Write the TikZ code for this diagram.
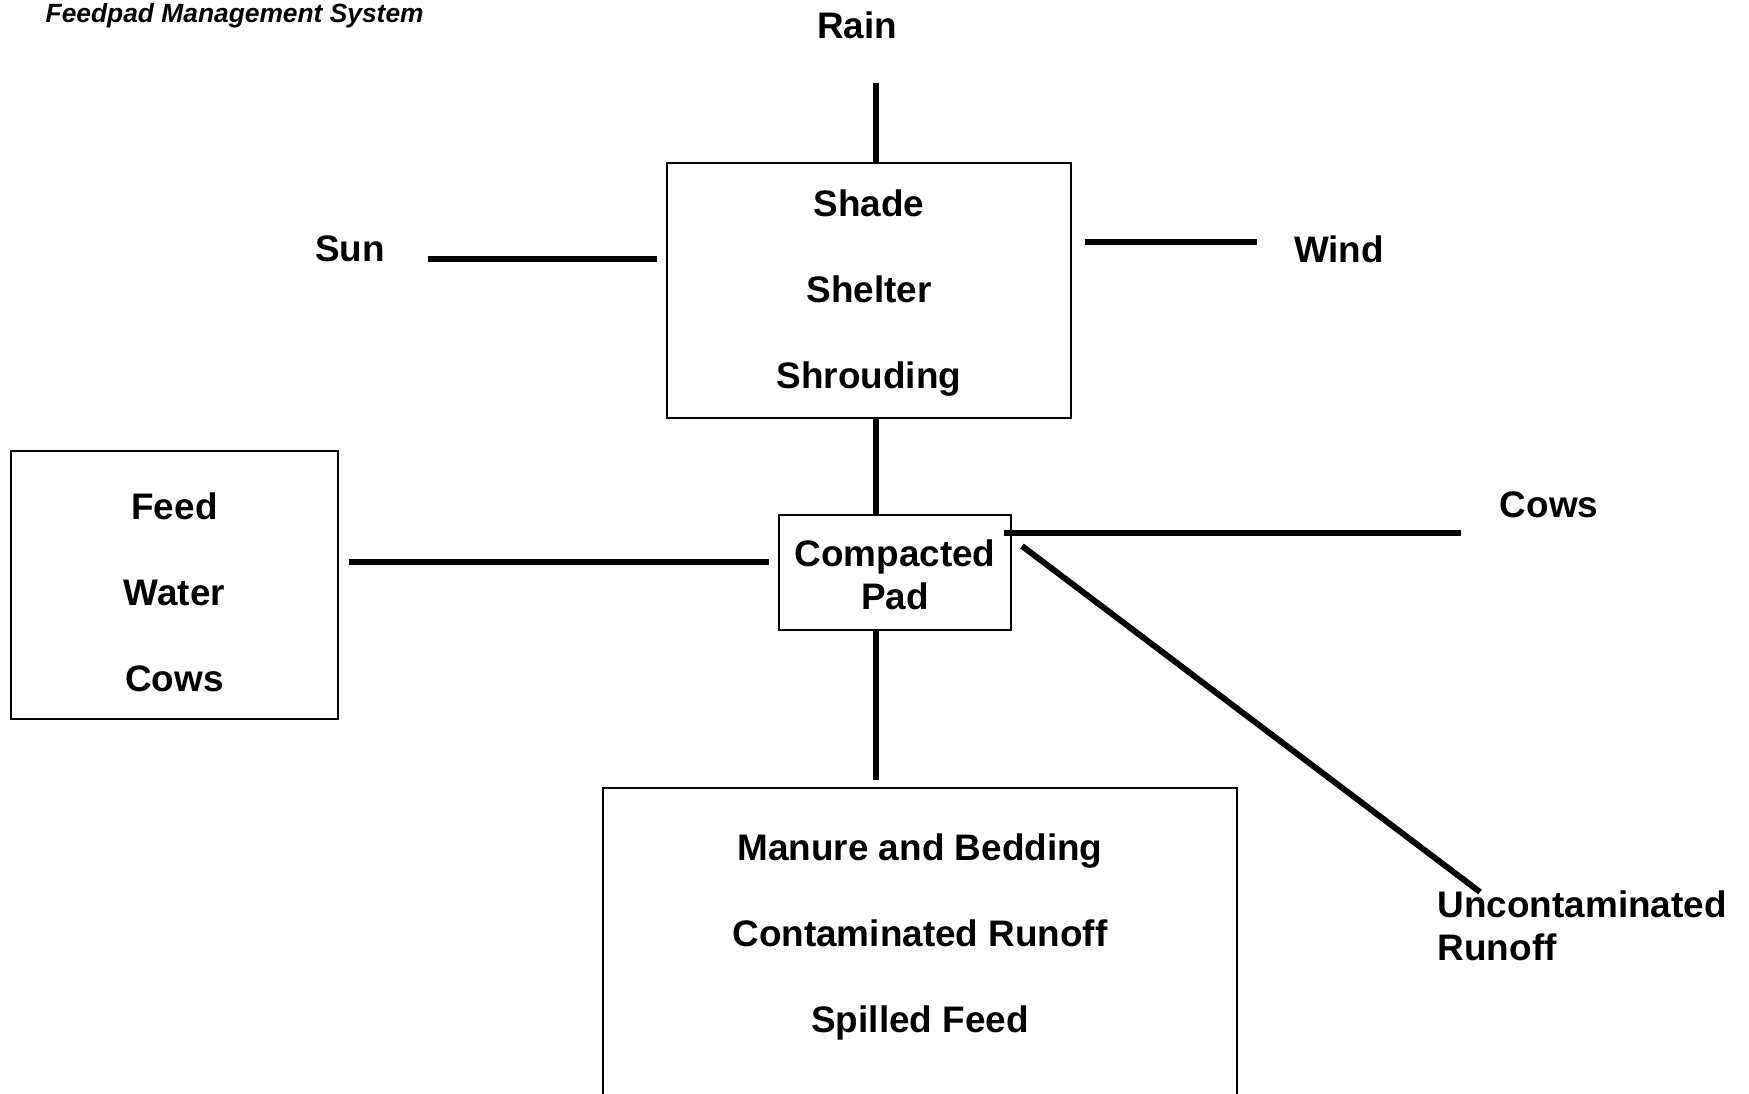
\documentclass[tikz,border=0pt]{standalone}
\usepackage{fontspec}
\setmainfont{Liberation Sans}
\tikzset{
  rotulo/.style={font=\bfseries\fontsize{10.5}{12.2}\selectfont, inner sep=0pt},
  caixa/.style={draw, line width=0.57pt, rotulo, align=center},
  ligacao/.style={line width=1.7pt}
}
\begin{document}
\begin{tikzpicture}
%moldura da figura
 \useasboundingbox (0,0) rectangle (17.49,10.93);
 \clip (0,0) rectangle (17.49,10.93);
%titulo
 \node[anchor=west, inner sep=0pt, font=\bfseries\itshape\fontsize{7.5}{9}\selectfont] (titulo) at (0.45,10.77) {Feedpad Management System};
%caixas
 \node[caixa, minimum width=4.04cm, minimum height=2.55cm] (abrigo) at (8.69,8.025) {};
 \node[rotulo, align=center] (abrigotxt) at (8.69,8.00) {Shade\\[12.3pt]Shelter\\[12.3pt]Shrouding};
 \node[caixa, minimum width=2.32cm, minimum height=1.15cm] (pad) at (8.95,5.205) {};
 \node[rotulo, align=center] (padtxt) at (8.95,5.18) {Compacted\\Pad};
 \node[caixa, minimum width=3.27cm, minimum height=2.68cm] (entrada) at (1.745,5.08) {};
 \node[rotulo, align=center] (entradatxt) at (1.745,5.01) {Feed\\[12.3pt]Water\\[12.3pt]Cows};
 \node[caixa, minimum width=6.34cm, minimum height=3.4cm, anchor=north] (residuo) at (9.20,3.06) {};
 \node[rotulo, align=center] (residuotxt) at (9.20,1.56) {Manure and Bedding\\[12.3pt]Contaminated Runoff\\[12.3pt]Spilled Feed};
%rotulos soltos
 \node[rotulo] (chuva) at (8.57,10.68) {Rain};
 \node[rotulo] (sol) at (3.50,8.44) {Sun};
 \node[rotulo] (vento) at (13.39,8.44) {Wind};
 \node[rotulo] (vacas) at (15.49,5.88) {Cows};
 \node[rotulo, anchor=west, align=left] (escoamento) at (14.37,1.67) {Uncontaminated\\Runoff};
%pontas livres das linhas
 \coordinate (eixo) at (8.76,0);
 \coordinate (chuvafim) at (8.76,10.10);
 \coordinate (solfim) at (4.28,8.34);
 \coordinate (ventofim) at (12.57,8.51);
 \coordinate (alturaentrada) at (0,5.31);
 \coordinate (vacasfim) at (14.61,5.60);
 \coordinate (escoamentofim) at (14.80,2.01);
%linhas
 \draw[ligacao] (chuvafim) -- (chuvafim |- abrigo.north);
 \draw[ligacao, shorten >=0.09cm] (solfim) -- (solfim -| abrigo.west);
 \draw[ligacao, shorten >=0.13cm] (ventofim) -- (ventofim -| abrigo.east);
 \draw[ligacao] (abrigo.south -| eixo) -- (pad.north -| eixo);
 \draw[ligacao, shorten >=0.07cm] (pad.south -| eixo) -- (residuo.north -| eixo);
 \draw[ligacao, shorten <=0.1cm, shorten >=0.09cm] (entrada.east |- alturaentrada) -- (pad.west |- alturaentrada);
 \draw[ligacao, shorten <=-0.08cm] (pad.east |- vacasfim) -- (vacasfim);
 \draw[ligacao] ([shift={(0.10,-0.32)}]pad.north east) -- (escoamentofim);
\end{tikzpicture}
\end{document}
